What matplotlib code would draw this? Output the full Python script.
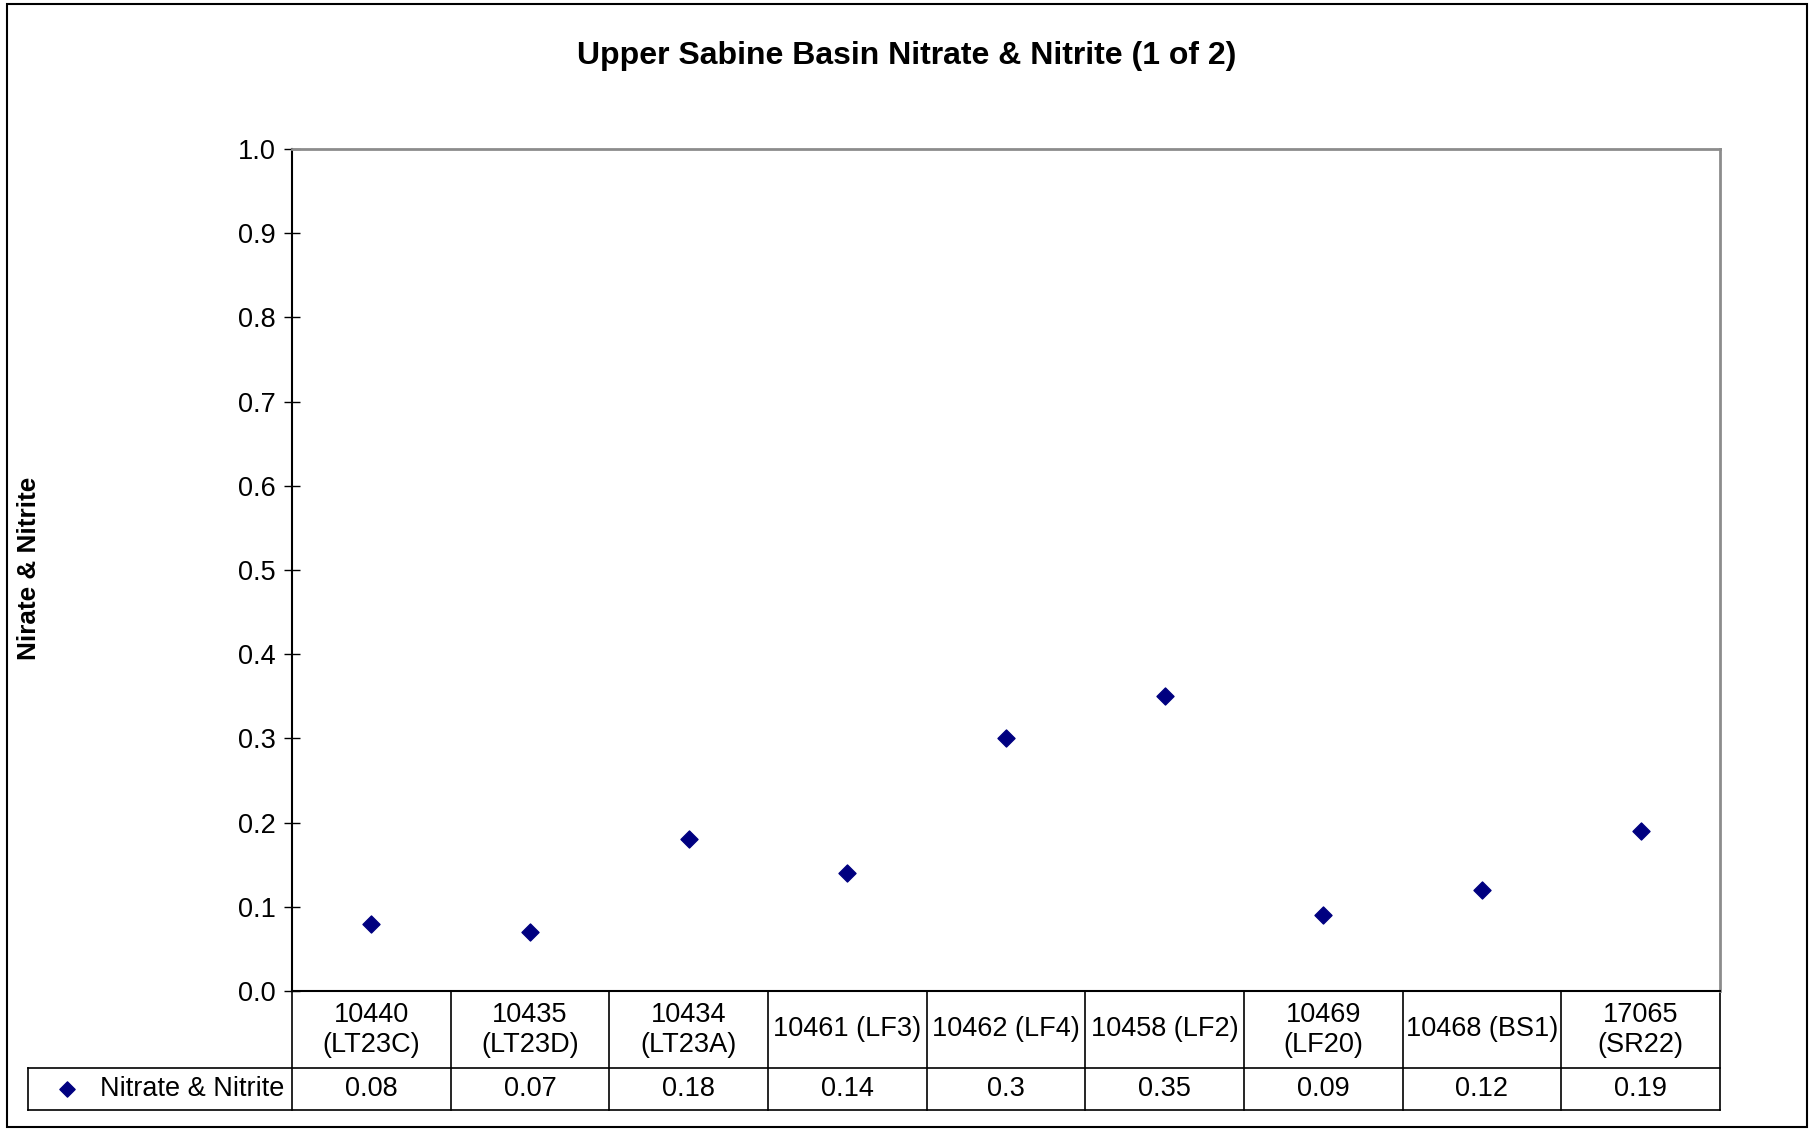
import matplotlib.pyplot as plt
from matplotlib.patches import Rectangle

plt.rcParams['font.family'] = ['Liberation Sans', 'DejaVu Sans']

# Data
sites = ["10440\n(LT23C)", "10435\n(LT23D)", "10434\n(LT23A)", "10461 (LF3)",
         "10462 (LF4)", "10458 (LF2)", "10469\n(LF20)", "10468 (BS1)", "17065\n(SR22)"]
values = [0.08, 0.07, 0.18, 0.14, 0.3, 0.35, 0.09, 0.12, 0.19]
value_labels = ["0.08", "0.07", "0.18", "0.14", "0.3", "0.35", "0.09", "0.12", "0.19"]
series_name = "Nitrate & Nitrite"
yticks = [0.0, 0.1, 0.2, 0.3, 0.4, 0.5, 0.6, 0.7, 0.8, 0.9, 1.0]

W, H = 1815, 1129
FS = 19.5
fig = plt.figure(figsize=(W / 100, H / 100), dpi=100)

# outer chart border
fig.patches.append(Rectangle((7 / W, 2 / H), 1800 / W, 1123 / H, transform=fig.transFigure,
                             fill=False, edgecolor='black', linewidth=1.5))

ax = fig.add_axes([292 / W, (H - 991) / H, 1428 / W, 842 / H])
x = list(range(len(values)))
ax.scatter(x, values, marker='D', s=75, color='#000080', zorder=3, clip_on=False)

ax.set_xlim(-0.5, len(values) - 0.5)
ax.set_ylim(0, 1.0)
ax.set_yticks(yticks)
ax.set_yticklabels([f"{t:.1f}" for t in yticks])
ax.tick_params(axis='y', direction='inout', length=11.5, width=1, labelsize=FS, pad=6)
ax.set_xticks([])
for side in ['top', 'right']:
    ax.spines[side].set_color('#8c8c8c')
    ax.spines[side].set_linewidth(2)
for side in ['left', 'bottom']:
    ax.spines[side].set_color('black')
    ax.spines[side].set_linewidth(1.5)

fig.text(907 / W, 1 - 56 / H, "Upper Sabine Basin Nitrate & Nitrite (1 of 2)", fontsize=23,
         fontweight='bold', ha='center', va='center')
fig.text(29 / W, 1 - 568 / H, "Nirate & Nitrite", rotation=90, fontsize=18.8, fontweight='bold',
         ha='center', va='center')

# data table below the axes (x in data units, y in axes fraction)
tr = ax.get_xaxis_transform()
ph = 842.0
y_hdr = -(1068 - 991) / ph
y_bot = -(1110 - 991) / ph
x_leg = -0.5 - (292 - 28) / 158.67
line_kw = dict(transform=tr, clip_on=False, color='black', linewidth=1.2)

for i in range(len(values) + 1):
    ax.plot([i - 0.5, i - 0.5], [0, y_bot], **line_kw)
ax.plot([x_leg, len(values) - 0.5], [y_hdr, y_hdr], **line_kw)
ax.plot([x_leg, len(values) - 0.5], [y_bot, y_bot], **line_kw)
ax.plot([x_leg, x_leg], [y_hdr, y_bot], **line_kw)

for i, (lab, v) in enumerate(zip(sites, value_labels)):
    ax.text(i, y_hdr / 2, lab, transform=tr, ha='center', va='center', fontsize=FS,
            linespacing=1.2, clip_on=False)
    ax.text(i, (y_hdr + y_bot) / 2, v, transform=tr, ha='center', va='center', fontsize=FS,
            clip_on=False)

# legend key inside the table
y_mid = (y_hdr + y_bot) / 2
ax.scatter([x_leg + (67 - 28) / 158.67], [y_mid], marker='D', s=60, color='#000080',
           transform=tr, clip_on=False)
ax.text(x_leg + (100 - 28) / 158.67, y_mid, series_name, transform=tr, ha='left', va='center',
        fontsize=FS, clip_on=False)

fig.savefig("out.png", dpi=100)
